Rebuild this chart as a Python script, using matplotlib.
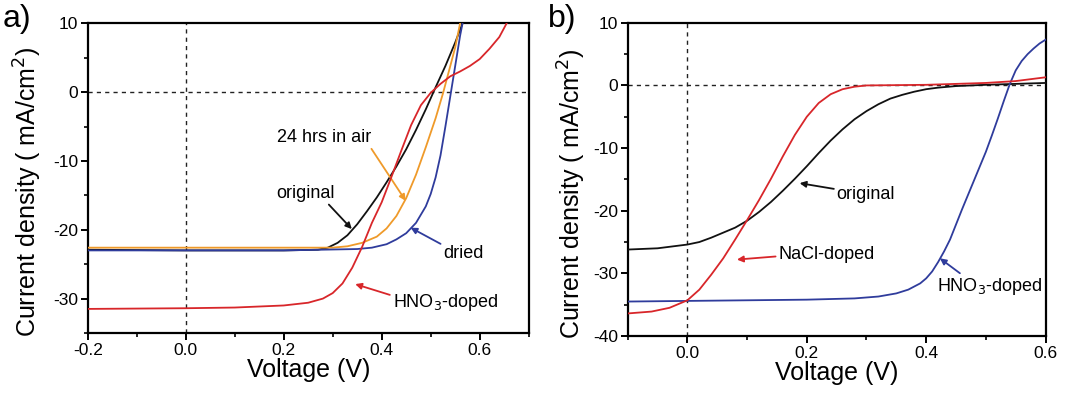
import matplotlib
matplotlib.use('Agg')
import matplotlib.pyplot as plt
from matplotlib.ticker import MultipleLocator

plt.rcParams['font.family'] = ['Liberation Sans', 'DejaVu Sans']
plt.rcParams['axes.unicode_minus'] = False

# Panel a data (voltage V, current density mA/cm^2)
v_a_orig = [-0.2, 0.0, 0.2, 0.27, 0.29, 0.31, 0.33, 0.35, 0.37, 0.39, 0.41, 0.43, 0.45,
            0.47, 0.49, 0.51, 0.53, 0.55, 0.565]
j_a_orig = [-22.9, -23.0, -23.0, -22.9, -22.6, -21.9, -20.8, -19.2, -17.3, -15.3, -13.1, -10.8,
            -8.3, -5.5, -2.5, 0.7, 3.8, 7.2, 10.0]

v_a_air = [-0.2, 0.0, 0.2, 0.30, 0.33, 0.36, 0.39, 0.41, 0.43, 0.45, 0.47, 0.49, 0.51, 0.525,
           0.54, 0.55, 0.56]
j_a_air = [-22.6, -22.6, -22.6, -22.6, -22.4, -21.9, -21.0, -19.8, -18.0, -15.4, -12.0, -8.0,
           -3.8, -0.2, 3.8, 6.5, 10.0]

v_a_dried = [-0.2, 0.0, 0.2, 0.35, 0.38, 0.41, 0.43, 0.45, 0.47, 0.49, 0.50, 0.51, 0.52,
             0.53, 0.54, 0.55, 0.56, 0.565]
j_a_dried = [-23.0, -23.0, -23.0, -22.8, -22.6, -22.1, -21.4, -20.5, -19.0, -16.6, -14.8,
             -12.4, -9.2, -5.0, -0.6, 3.8, 8.2, 10.0]

v_a_hno3 = [-0.2, 0.0, 0.1, 0.2, 0.25, 0.28, 0.30, 0.32, 0.34, 0.36, 0.38, 0.40, 0.42, 0.44,
            0.46, 0.48, 0.50, 0.52, 0.54, 0.56, 0.58, 0.60, 0.62, 0.64, 0.655]
j_a_hno3 = [-31.5, -31.4, -31.3, -31.0, -30.6, -30.0, -29.2, -27.8, -25.5, -22.5, -19.0,
            -16.0, -12.3, -8.5, -4.8, -1.9, -0.1, 1.2, 2.3, 3.0, 3.8, 4.8, 6.3, 8.0, 10.0]

# Panel b data
v_b_orig = [-0.1, -0.05, 0.0, 0.02, 0.04, 0.06, 0.08, 0.10, 0.12, 0.14, 0.16, 0.18, 0.20,
            0.22, 0.24, 0.26, 0.28, 0.30, 0.32, 0.34, 0.36, 0.38, 0.40, 0.42, 0.45, 0.50,
            0.55, 0.60]
j_b_orig = [-26.2, -26.0, -25.4, -25.0, -24.3, -23.5, -22.7, -21.6, -20.2, -18.6, -16.8,
            -14.9, -12.9, -10.8, -8.8, -7.0, -5.4, -4.1, -3.0, -2.1, -1.5, -1.0, -0.6,
            -0.35, -0.1, 0.1, 0.25, 0.4]

v_b_nacl = [-0.1, -0.06, -0.03, 0.0, 0.02, 0.04, 0.06, 0.08, 0.10, 0.12, 0.14, 0.16, 0.18,
            0.20, 0.22, 0.24, 0.26, 0.28, 0.30, 0.40, 0.50, 0.55, 0.60]
j_b_nacl = [-36.4, -36.1, -35.5, -34.3, -32.6, -30.2, -27.6, -24.6, -21.5, -18.3, -14.9,
            -11.3, -7.9, -5.0, -2.8, -1.4, -0.6, -0.2, 0.0, 0.1, 0.4, 0.7, 1.3]

v_b_hno3 = [-0.1, 0.0, 0.1, 0.2, 0.28, 0.32, 0.35, 0.37, 0.39, 0.40, 0.41, 0.42, 0.43,
            0.44, 0.46, 0.48, 0.50, 0.51, 0.52, 0.53, 0.54, 0.55, 0.56, 0.57, 0.58, 0.59,
            0.60]
j_b_hno3 = [-34.5, -34.4, -34.3, -34.2, -34.0, -33.7, -33.2, -32.6, -31.6, -30.8, -29.7,
            -28.2, -26.5, -24.6, -19.8, -15.2, -10.6, -8.0, -5.3, -2.5, 0.2, 2.4, 3.9,
            5.0, 5.9, 6.7, 7.3]

c_black = '#111111'
c_orange = '#ef9a2a'
c_blue = '#2f3c9c'
c_red = '#d8262a'

fig = plt.figure(figsize=(10.67, 3.98), dpi=100)
ax_a = fig.add_axes([0.0822, 0.1633, 0.4133, 0.7782])
ax_b = fig.add_axes([0.5883, 0.1558, 0.3916, 0.7869])


def style_axis(ax, label_x):
    for sp in ax.spines.values():
        sp.set_linewidth(1.6)
    ax.tick_params(which='major', direction='out', length=5, width=1.4, labelsize=12.5,
                   top=False, right=False, pad=2)
    ax.tick_params(which='minor', direction='out', length=3, width=1.2, top=False, right=False)
    ax.axhline(0, color='#222222', lw=1.0, ls=(0, (3, 3)), zorder=1)
    ax.axvline(0, color='#222222', lw=1.0, ls=(0, (3, 3)), zorder=1)
    ax.set_xlabel('Voltage (V)', fontsize=18, labelpad=0)
    ax.set_ylabel('Current density ( mA/cm$^2$)', fontsize=18, labelpad=1)
    ax.yaxis.set_label_coords(label_x, 0.455)


# ---- panel a ----
ax = ax_a
lw = 1.3
ax.plot(v_a_orig, j_a_orig, color=c_black, lw=lw, zorder=3)
ax.plot(v_a_air, j_a_air, color=c_orange, lw=lw, zorder=3)
ax.plot(v_a_dried, j_a_dried, color=c_blue, lw=lw, zorder=3)
ax.plot(v_a_hno3, j_a_hno3, color=c_red, lw=lw, zorder=4)
ax.set_xlim(-0.2, 0.7)
ax.set_ylim(-35, 10)
ax.xaxis.set_minor_locator(MultipleLocator(0.1))
ax.yaxis.set_major_locator(MultipleLocator(10))
ax.yaxis.set_minor_locator(MultipleLocator(5))
ax.set_xticks([-0.2, 0.0, 0.2, 0.4, 0.6])
ax.set_xticklabels(['-0.2', '0.0', '0.2', '0.4', '0.6'])
style_axis(ax, -0.098)

arw = dict(arrowstyle='-|>', lw=1.3, mutation_scale=9, shrinkA=0, shrinkB=0)
ax.annotate('24 hrs in air', xy=(0.449, -15.8), xytext=(0.283, -6.6), fontsize=13,
            ha='center', va='center', arrowprops=dict(arw, color=c_orange, relpos=(0.98, 0.0)))
ax.annotate('original', xy=(0.339, -19.9), xytext=(0.245, -14.7), fontsize=13,
            ha='center', va='center', arrowprops=dict(arw, color=c_black, relpos=(0.85, 0.0)))
ax.annotate('dried', xy=(0.459, -19.7), xytext=(0.567, -23.5), fontsize=13,
            ha='center', va='center', arrowprops=dict(arw, color=c_blue, relpos=(0.0, 1.0)))
ax.annotate('HNO$_3$-doped', xy=(0.346, -27.9), xytext=(0.53, -30.5), fontsize=13,
            ha='center', va='center', arrowprops=dict(arw, color=c_red, relpos=(0.0, 0.8)))

# ---- panel b ----
ax = ax_b
ax.plot(v_b_orig, j_b_orig, color=c_black, lw=lw, zorder=3)
ax.plot(v_b_hno3, j_b_hno3, color=c_blue, lw=lw, zorder=3)
ax.plot(v_b_nacl, j_b_nacl, color=c_red, lw=lw, zorder=4)
ax.set_xlim(-0.1, 0.6)
ax.set_ylim(-40, 10)
ax.set_xticks([0.0, 0.2, 0.4, 0.6])
ax.set_xticklabels(['0.0', '0.2', '0.4', '0.6'])
ax.xaxis.set_minor_locator(MultipleLocator(0.1))
ax.yaxis.set_major_locator(MultipleLocator(10))
ax.yaxis.set_minor_locator(MultipleLocator(5))
style_axis(ax, -0.095)

ax.annotate('original', xy=(0.188, -15.6), xytext=(0.299, -17.4), fontsize=13,
            ha='center', va='center', arrowprops=dict(arw, color=c_black, relpos=(0.0, 0.8)))
ax.annotate('NaCl-doped', xy=(0.083, -27.8), xytext=(0.233, -27.0), fontsize=13,
            ha='center', va='center', arrowprops=dict(arw, color=c_red, relpos=(0.0, 0.4)))
ax.annotate('HNO$_3$-doped', xy=(0.423, -27.6), xytext=(0.507, -32.1), fontsize=13,
            ha='center', va='center', arrowprops=dict(arw, color=c_blue, relpos=(0.25, 1.0)))

fig.text(0.002, 0.99, 'a)', fontsize=23, ha='left', va='top')
fig.text(0.514, 0.99, 'b)', fontsize=23, ha='left', va='top')

fig.savefig('out.png', dpi=100)
